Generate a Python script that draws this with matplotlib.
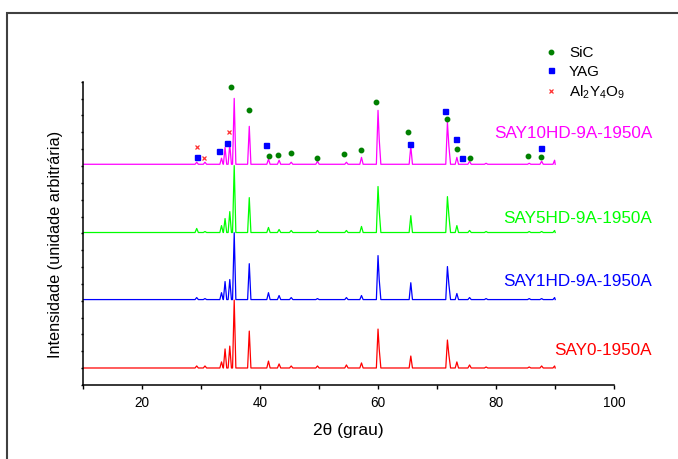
import matplotlib
matplotlib.use("Agg")
import matplotlib.pyplot as plt
from matplotlib.lines import Line2D
from matplotlib.patches import Rectangle

plt.rcParams['font.family'] = ['Liberation Sans', 'DejaVu Sans']
plt.rcParams['mathtext.default'] = 'regular'

# peak positions (2 theta, deg) shared by the four patterns
peaks = [29.3, 30.7, 33.5, 34.1, 34.9, 35.65, 38.2, 41.45, 43.25, 45.3, 49.75, 54.65,
         57.2, 60.0, 60.2, 65.55, 71.75, 72.0, 73.35, 75.5, 78.3, 85.6, 87.7, 89.9]

# peak heights for each sample (arbitrary units)
h_say0 = [0.12, 0.12, 0.36, 1.13, 1.30, 4.03, 2.19, 0.41, 0.24, 0.12, 0.12, 0.18,
          0.30, 2.31, 1.13, 0.71, 1.66, 0.77, 0.36, 0.18, 0.06, 0.06, 0.12, 0.12]
h_say1 = [0.12, 0.06, 0.41, 1.07, 1.19, 3.97, 2.13, 0.41, 0.24, 0.12, 0.06, 0.12,
          0.24, 2.61, 1.19, 1.00, 1.96, 0.89, 0.36, 0.12, 0.06, 0.06, 0.06, 0.12]
h_say5 = [0.24, 0.06, 0.41, 0.83, 1.24, 3.97, 2.07, 0.30, 0.18, 0.12, 0.12, 0.12,
          0.36, 2.73, 1.30, 1.00, 2.13, 1.00, 0.41, 0.12, 0.06, 0.06, 0.06, 0.12]
h_say10 = [0.12, 0.12, 0.36, 1.00, 1.19, 3.91, 2.25, 0.30, 0.24, 0.12, 0.18, 0.12,
           0.41, 3.20, 1.50, 1.07, 2.49, 1.07, 0.41, 0.18, 0.06, 0.06, 0.18, 0.24]

samples = ['SAY0-1950A', 'SAY1HD-9A-1950A', 'SAY5HD-9A-1950A', 'SAY10HD-9A-1950A']
heights = [h_say0, h_say1, h_say5, h_say10]
offsets = [1.01, 5.07, 9.05, 13.10]
colors = ['#ff0000', '#0000ff', '#00ff00', '#ff00ff']
label_y = [2.07, 6.16, 9.90, 14.94]
theta_start, theta_end = 10, 90

# phase markers above the SAY10HD pattern
sic_x = [35.11, 38.20, 41.49, 43.11, 45.21, 49.66, 54.24, 57.11, 59.60, 65.07, 71.67,
         73.31, 75.56, 85.44, 87.54]
sic_y = [17.71, 16.34, 13.61, 13.67, 13.79, 13.47, 13.73, 13.97, 16.79, 15.04, 15.81,
         14.01, 13.47, 13.59, 13.53]
yag_x = [29.35, 33.02, 34.38, 41.08, 65.36, 71.38, 73.25, 74.26, 87.58]
yag_y = [13.53, 13.89, 14.36, 14.24, 14.30, 16.26, 14.60, 13.47, 14.07]
aly_x = [29.35, 30.59, 34.82]
aly_y = [14.10, 13.47, 15.01]


def pattern(pos, hts, base, w=0.28):
    # polyline through the peak apexes, feet dropped where peaks overlap
    xs, ys = [theta_start], [base]
    for i, (p, h) in enumerate(zip(pos, hts)):
        if i == 0 or p - pos[i - 1] > 2 * w:
            xs.append(p - w)
            ys.append(base)
        xs.append(p)
        ys.append(base + h)
        if i == len(pos) - 1 or pos[i + 1] - p > 2 * w:
            xs.append(min(p + w, theta_end))
            ys.append(base)
    xs.append(theta_end)
    ys.append(base)
    return xs, ys


fig = plt.figure(figsize=(6.78, 4.59), dpi=100)
ax = fig.add_axes([0.122, 0.1612, 0.784, 0.6608])

for hts, off, c, lab, ly in zip(heights, offsets, colors, samples, label_y):
    xs, ys = pattern(peaks, hts, off)
    ax.plot(xs, ys, color=c, linewidth=0.9)
    ax.text(106.4, ly, lab, color=c, fontsize=12.3, ha='right', va='center', clip_on=False)

ax.plot(sic_x, sic_y, 'o', color='#008000', markersize=3.2, linestyle='none', clip_on=False)
ax.plot(yag_x, yag_y, 's', color='#0000ff', markersize=3.6, linestyle='none', clip_on=False)
ax.plot(aly_x, aly_y, 'x', color='#ff3030', markersize=3, markeredgewidth=0.9,
        linestyle='none', clip_on=False)

ax.set_xlim(10, 100)
ax.set_ylim(0, 18)
ax.set_xticks(range(10, 101, 10))
ax.set_xticklabels(['' if t % 20 else str(t) for t in range(10, 101, 10)], fontsize=9.8)
ax.set_yticks(range(0, 19))
ax.set_yticklabels([])
ax.tick_params(axis='x', direction='out', length=2.6, width=1, pad=5)
ax.tick_params(axis='y', direction='out', length=1.6, width=1)
for s in ['top', 'right']:
    ax.spines[s].set_visible(False)
for s in ['left', 'bottom']:
    ax.spines[s].set_linewidth(1.1)

ax.set_xlabel('2θ (grau)', fontsize=12.5, labelpad=10)
ax.set_ylabel('Intensidade (unidade arbitrária)', fontsize=11.7)
ax.yaxis.set_label_coords(-0.037, 0.462)

handles = [Line2D([], [], marker='o', color='#008000', markersize=3.2, linestyle='none'),
           Line2D([], [], marker='s', color='#0000ff', markersize=3.6, linestyle='none'),
           Line2D([], [], marker='x', color='#ff3030', markersize=3, markeredgewidth=0.9,
                  linestyle='none')]
fig.legend(handles, ['SiC', 'YAG', 'Al$_2$Y$_4$O$_9$'], loc='upper left',
           bbox_to_anchor=(0.801, 0.9), frameon=False, fontsize=11,
           handlelength=1.0, handletextpad=0.7, labelspacing=0.32,
           borderpad=0, borderaxespad=0)

# outer frame of the original panel
fig.patches.append(Rectangle((0.0108, -0.1), 1.2, 1.0717, transform=fig.transFigure,
                             fill=False, edgecolor='#404040', linewidth=1.5))

fig.savefig('out.png', dpi=100)
